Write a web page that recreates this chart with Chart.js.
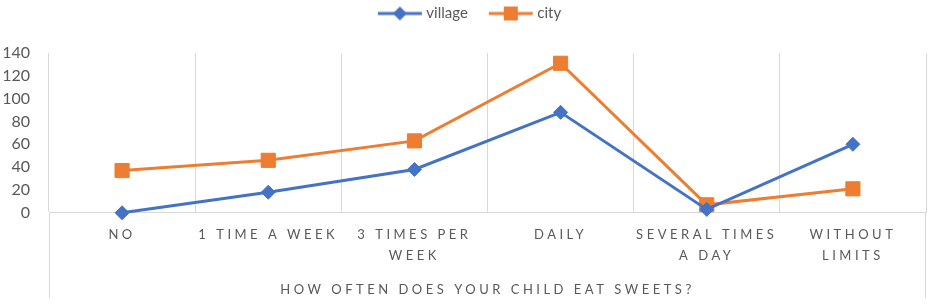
<!DOCTYPE html>
<html><head><meta charset="utf-8">
<script src="https://cdn.jsdelivr.net/npm/chart.js@4"></script>
<style>html,body{margin:0;padding:0;background:#fff;overflow:hidden;} #wrap{width:937px;height:304px;position:relative;}</style>
</head><body><div id="wrap"><canvas id="c"></canvas></div>
<script>
const categories = ['NO', '1 TIME A WEEK', ['3 TIMES PER', 'WEEK'], 'DAILY', ['SEVERAL TIMES', 'A DAY'], ['WITHOUT', 'LIMITS']];
const villageValues = [0, 18, 38, 88, 3, 60];
const cityValues = [37, 46, 63, 131, 7, 21];
const seriesNames = ['village', 'city'];
const yTickStep = 20;
const yMax = 140;
const axisTitle = 'HOW OFTEN DOES YOUR CHILD EAT SWEETS?';

const BLUE = '#4472C4', ORANGE = '#ED7D31', TEXT = '#595959', GRID = '#D9D9D9';
const FONT = 'Lato';

function legendIcon(color, shape) {
  const c = document.createElement('canvas');
  c.width = 46; c.height = 16;
  const x = c.getContext('2d');
  x.strokeStyle = color; x.lineWidth = 3;
  x.beginPath(); x.moveTo(1, 8); x.lineTo(45, 8); x.stroke();
  x.fillStyle = color;
  if (shape === 'diamond') {
    x.beginPath(); x.moveTo(23, 1); x.lineTo(30, 8); x.lineTo(23, 15); x.lineTo(16, 8); x.closePath(); x.fill();
  } else {
    x.fillRect(16, 1, 14, 14);
  }
  return c;
}
const icons = [legendIcon(BLUE, 'diamond'), legendIcon(ORANGE, 'square')];

const spacingPlugin = {
  id: 'spacing',
  beforeLayout(chart) {
    const lg = chart.legend;
    if (lg && !lg._grown) {
      lg._grown = true;
      const f = lg.fit;
      lg.fit = function () { f.call(this); this.height += 22; };
    }
  },
  afterUpdate(chart) {
    const s = chart.scales.x;
    if (s && !s._spaced) {
      s._spaced = true;
      const dl = s.drawLabels, dt = s.drawTitle;
      s.drawLabels = function (a) { const ctx = this.ctx; ctx.save(); ctx.letterSpacing = '3.5px'; dl.call(this, a); ctx.restore(); };
      s.drawTitle = function (a) { const ctx = this.ctx; ctx.save(); ctx.letterSpacing = '3.5px'; dt.call(this, a); ctx.restore(); };
    }
  }
};

const framePlugin = {
  id: 'frame',
  beforeDatasetsDraw(chart) {
    const { ctx, chartArea } = chart;
    ctx.save();
    ctx.strokeStyle = GRID; ctx.lineWidth = 1;
    ctx.beginPath();
    const l = Math.round(chartArea.left) + 0.5, r = Math.round(chartArea.right) - 0.5;
    ctx.moveTo(l, chartArea.bottom); ctx.lineTo(l, chart.height - 6);
    ctx.moveTo(r, chartArea.bottom); ctx.lineTo(r, chart.height - 6);
    ctx.stroke();
    ctx.restore();
  }
};

new Chart(document.getElementById('c'), {
  type: 'line',
  data: {
    labels: categories,
    datasets: [
      { label: seriesNames[0], data: villageValues, borderColor: BLUE, backgroundColor: BLUE, borderWidth: 3, clip: false,
        pointStyle: 'rectRot', pointRadius: 7, pointBorderWidth: 1, pointBackgroundColor: BLUE, pointBorderColor: BLUE },
      { label: seriesNames[1], data: cityValues, borderColor: ORANGE, backgroundColor: ORANGE, borderWidth: 3, clip: false,
        pointStyle: 'rect', pointRadius: 10, pointBorderWidth: 1, pointBackgroundColor: ORANGE, pointBorderColor: ORANGE }
    ]
  },
  plugins: [spacingPlugin, framePlugin],
  options: {
    responsive: true,
    maintainAspectRatio: false,
    animation: false,
    layout: { padding: { left: 4, right: -1, top: -18, bottom: 2 } },
    plugins: {
      tooltip: { enabled: false },
      legend: {
        position: 'top',
        labels: {
          usePointStyle: true,
          pointStyleWidth: 38,
          padding: 24,
          color: TEXT,
          font: { family: FONT, size: 15 },
          generateLabels(chart) {
            return chart.data.datasets.map((ds, i) => ({
              text: ds.label, pointStyle: icons[i], fillStyle: ds.borderColor, strokeStyle: ds.borderColor,
              lineWidth: 0, hidden: false, datasetIndex: i, fontColor: TEXT
            }));
          }
        }
      }
    },
    scales: {
      x: {
        offset: true,
        grid: { offset: true, color: GRID, lineWidth: 1, drawTicks: false },
        border: { display: true, color: GRID, width: 1 },
        ticks: { padding: 12, color: TEXT, autoSkip: false, maxRotation: 0, font: { family: FONT, size: 13, lineHeight: 1.6 } },
        title: { display: true, text: axisTitle, color: TEXT, font: { family: FONT, size: 13 }, padding: { top: 4, bottom: 4 } },
        afterFit(s) { s.paddingLeft = 0; s.paddingRight = 0; }
      },
      y: {
        min: 0, max: yMax,
        grid: { display: false, drawTicks: false },
        border: { display: false },
        ticks: { stepSize: yTickStep, padding: 19, color: TEXT, font: { family: FONT, size: 16 } },
        afterFit(s) { s.width = 45; }
      }
    }
  }
});
</script>
</body></html>
